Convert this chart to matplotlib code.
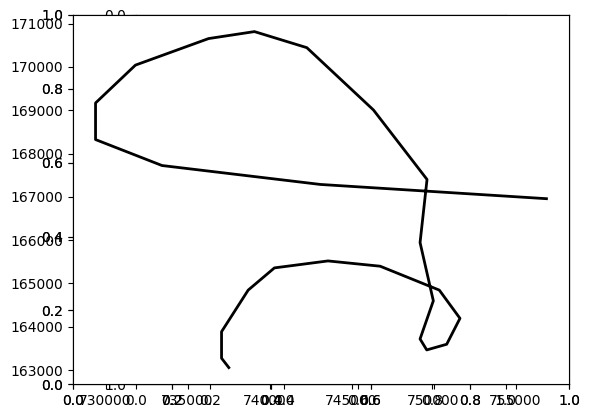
import matplotlib
matplotlib.use('Agg')
import matplotlib.pyplot as plt

# Route coordinates (projected metres)
route_x = [737519, 737075, 737075, 738699, 740298, 743565, 746747, 750354,
           751613, 750804, 749587, 749180, 749989, 749180, 749605, 746339,
           742276, 739082, 736284, 731825, 729392, 729392, 733443, 743097,
           756887]
route_y = [163058, 163275, 163887, 164847, 165360, 165521, 165399, 164847,
           164195, 163597, 163466, 163719, 164600, 165945, 167402, 169006,
           170445, 170816, 170655, 170042, 169168, 168323, 167724, 167287,
           166958]

fig = plt.figure(figsize=(5.89, 4.18), dpi=100)
rect = [73 / 589, 33.6 / 418, 496 / 589, 369.6 / 418]

# stray empty axes lying underneath
ax_a = fig.add_axes(rect)
ax_b = fig.add_axes(rect)
ax_c = fig.add_axes(rect)
ax_c.set_xlim(0, 1)
ax_c.set_ylim(1, 0)
ax_c.set_aspect('equal')

# data axes on top
ax = fig.add_axes(rect)
ax.plot(route_x, route_y, color='black', linewidth=2.0)

fig.savefig('out.png', dpi=100)
